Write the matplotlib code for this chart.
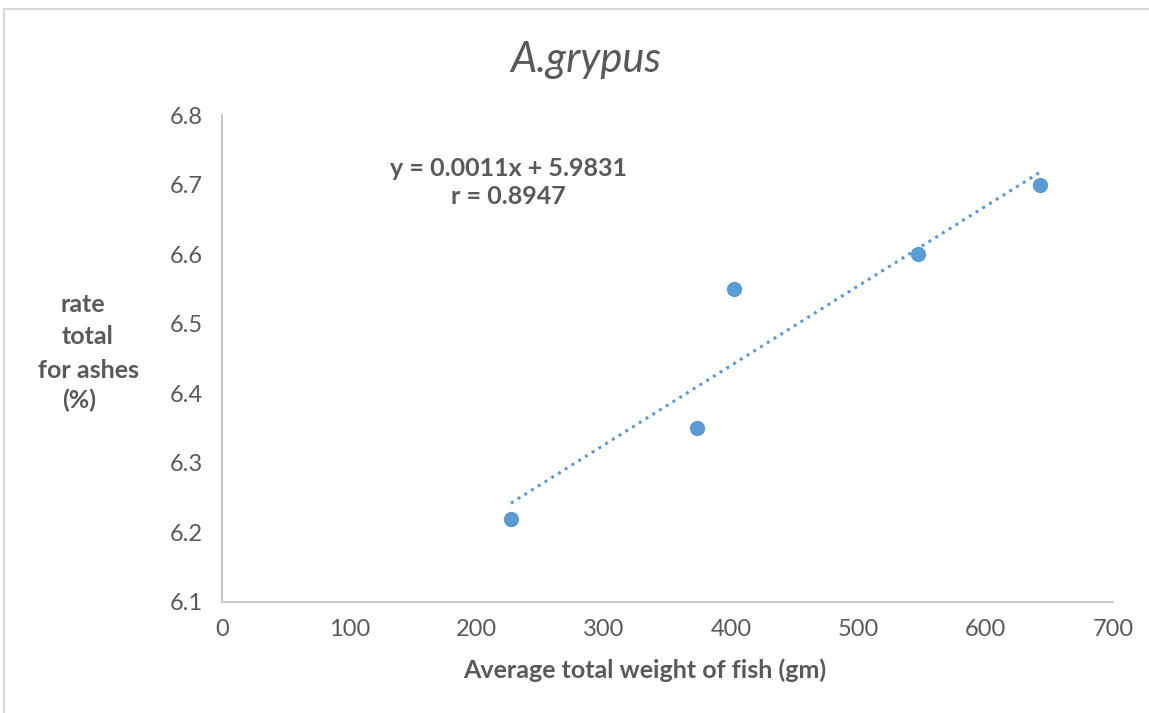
import matplotlib
matplotlib.use('Agg')
import matplotlib.pyplot as plt
from matplotlib.patches import Rectangle
import numpy as np

# data
weight = [227, 373, 402, 547, 643]
ashes = [6.22, 6.35, 6.55, 6.60, 6.70]
x_ticks = [0, 100, 200, 300, 400, 500, 600, 700]
y_ticks = [6.1, 6.2, 6.3, 6.4, 6.5, 6.6, 6.7, 6.8]
title = "A.grypus"
equation = "y = 0.0011x + 5.9831"
r_text = "r = 0.8947"
x_label = "Average total weight of fish (gm)"
y_label_lines = ["rate", "total", "for ashes", "(%)"]

blue = '#5B9BD5'
grey_text = '#595959'
plt.rcParams['font.family'] = ['Lato', 'DejaVu Sans']

fig = plt.figure(figsize=(11.49, 7.13), dpi=100)
ax = fig.add_axes([222 / 1149, 1 - 602 / 713, (1113 - 222) / 1149, (602 - 115) / 713])

# outer chart border (only top and left visible)
fig.patches.append(Rectangle((4 / 1149, -0.1), 1.2, 1 - 9 / 713 + 0.1,
                             transform=fig.transFigure, fill=False,
                             edgecolor='#d9d9d9', linewidth=1.5))

# linear trendline
slope, intercept = np.polyfit(weight, ashes, 1)
xs = np.array([min(weight), max(weight)])
ax.plot(xs, slope * xs + intercept, linestyle=(0, (1, 1.6)), color=blue,
        linewidth=2.2, zorder=2)
ax.plot(weight, ashes, 'o', color=blue, markersize=10, zorder=3)

ax.set_xlim(0, 700)
ax.set_ylim(6.1, 6.8)
ax.set_xticks(x_ticks)
ax.set_yticks(y_ticks)
ax.set_yticklabels([f"{v:.1f}" for v in y_ticks])
ax.tick_params(length=0, labelsize=17, colors=grey_text)
ax.tick_params(axis='y', pad=14)
ax.tick_params(axis='x', pad=12)
for side in ['top', 'right']:
    ax.spines[side].set_visible(False)
for side in ['left', 'bottom']:
    ax.spines[side].set_color('#bfbfbf')
    ax.spines[side].set_linewidth(1.2)

fig.text(586 / 1149, 1 - 60 / 713, title, ha='center', va='center',
         fontsize=30, style='italic', color=grey_text)
fig.text(508 / 1149, 1 - 168 / 713, equation, ha='center', va='center',
         fontsize=18, fontweight='bold', color=grey_text)
fig.text(508 / 1149, 1 - 197 / 713, r_text, ha='center', va='center',
         fontsize=18, fontweight='bold', color=grey_text)
fig.text(645 / 1149, 1 - 670 / 713, x_label, ha='center', va='center',
         fontsize=18, fontweight='bold', color=grey_text)

# y label lines, staggered like the original
y_lbl_x = [83, 88, 89, 79]
y_lbl_y = [305, 337, 370, 400]
for txt, lx, ly in zip(y_label_lines, y_lbl_x, y_lbl_y):
    fig.text(lx / 1149, 1 - ly / 713, txt, ha='center', va='center',
             fontsize=18, fontweight='bold', color=grey_text)

fig.savefig('out.png', dpi=100)
